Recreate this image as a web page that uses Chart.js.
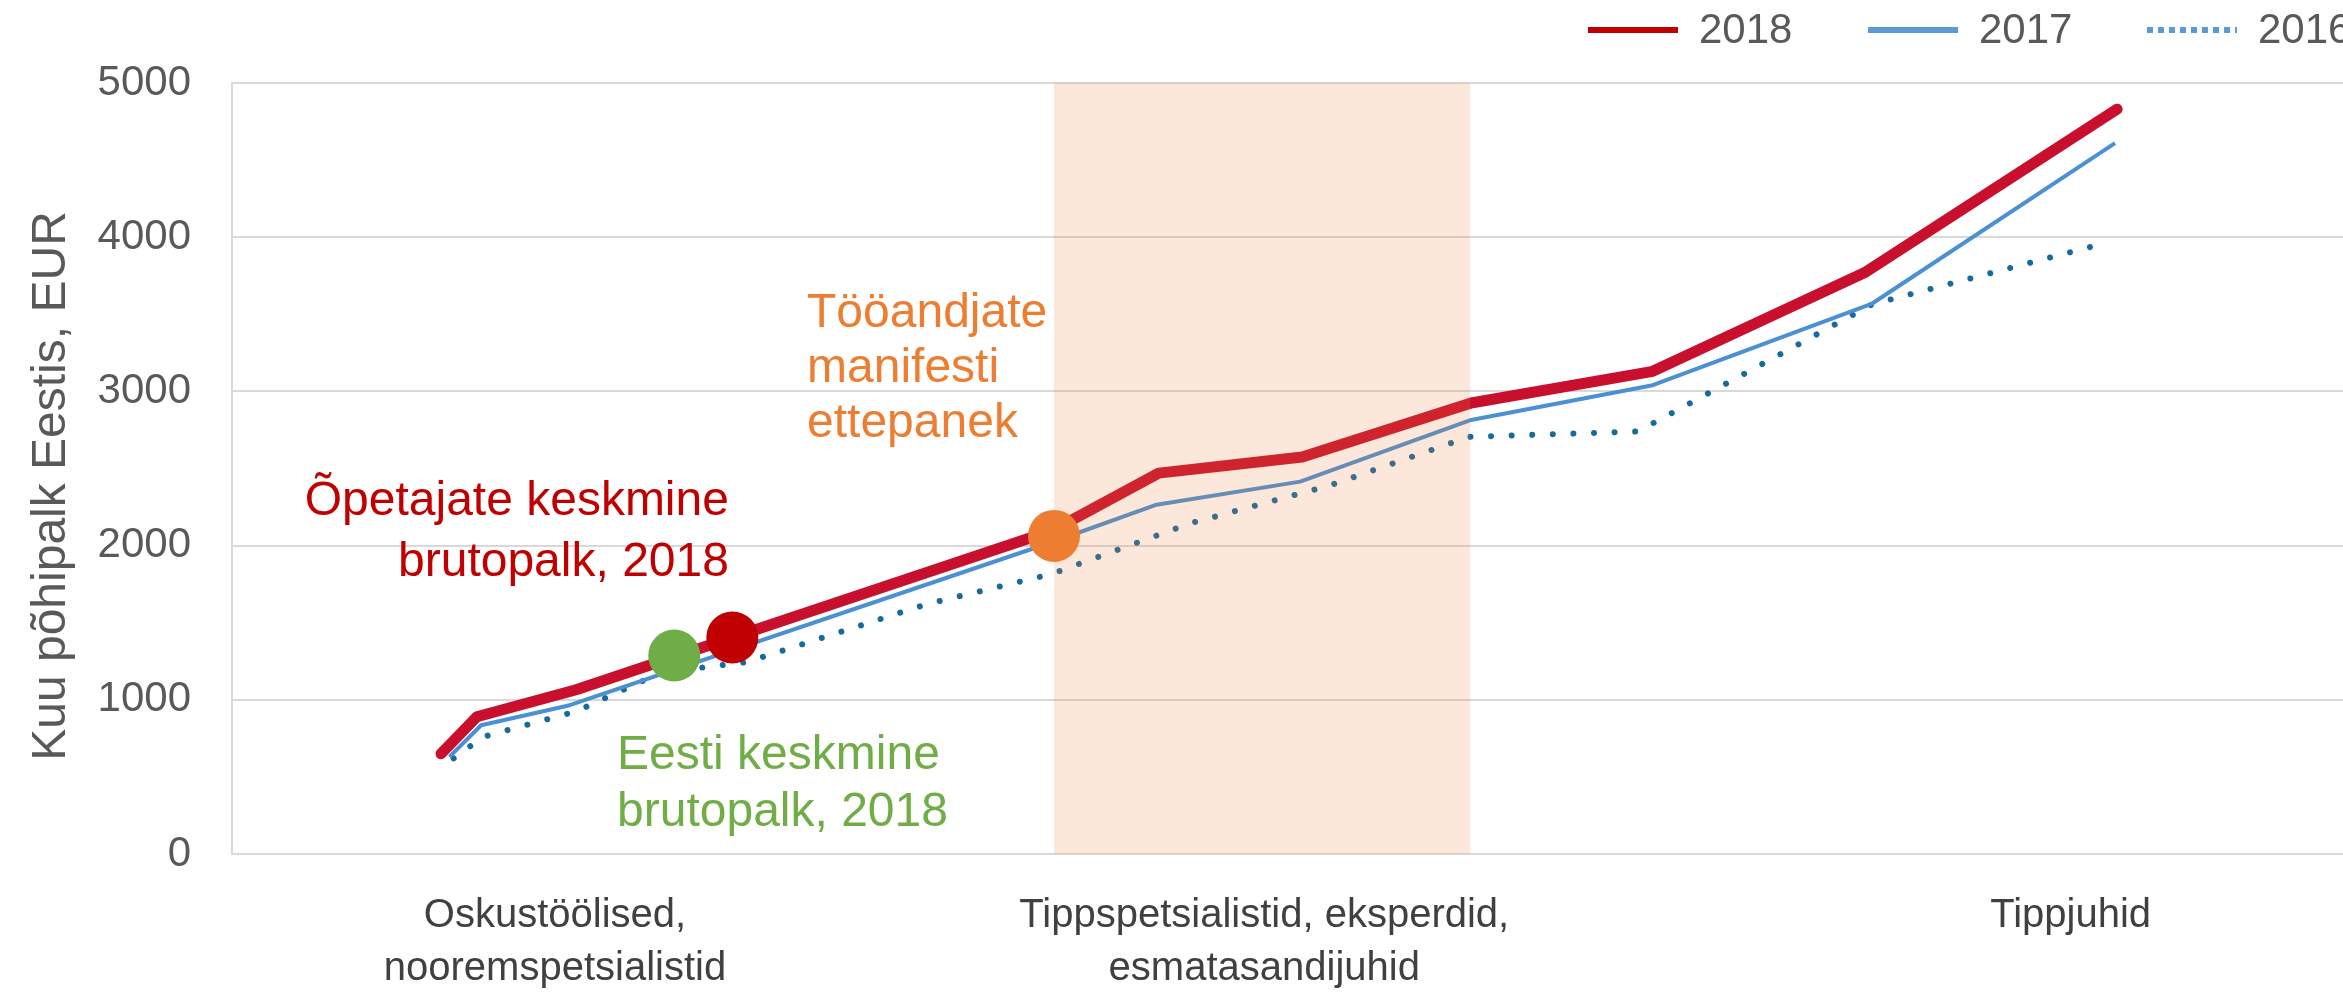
<!DOCTYPE html>
<html>
<head>
<meta charset="utf-8">
<script src="https://cdn.jsdelivr.net/npm/chart.js@4"></script>
<style>
  html, body { margin: 0; padding: 0; background: #fff; }
</style>
</head>
<body>
<canvas id="myChart" width="2343" height="993"></canvas>
<script>
// x = position along the occupation scale (0..100), y = EUR per month
const x2018 = [9.9, 11.6, 16.3, 38.9, 43.9, 50.7, 58.7, 67.3, 77.4, 89.3];
const y2018 = [650, 890, 1065, 2100, 2470, 2575, 2925, 3130, 3775, 4830];

const x2017 = [10.3, 11.8, 16.0, 38.9, 43.8, 50.6, 58.7, 67.3, 77.7, 89.2];
const y2017 = [630, 835, 965, 2025, 2265, 2415, 2815, 3040, 3570, 4610];

const x2016 = [10.5, 11.9, 16.3, 20.3, 24.4, 32.9, 38.8, 45.4, 52.0, 58.6, 66.6, 77.7, 88.4];
const y2016 = [620, 760, 925, 1175, 1245, 1620, 1815, 2145, 2390, 2705, 2740, 3565, 3950];

// marked points: Eesti keskmine, Õpetajate keskmine, Tööandjate manifest
const markerX = [20.95, 23.7, 38.94];
const markerY = [1287, 1404, 2063];
const markerColors = ['#70AD47', '#C00000', '#ED7D31'];

const bandRange = [38.94, 58.65];

const xTickValues = [15.3, 48.9, 87.1];
const xTickLabels = [
    ['Oskustöölised,', 'nooremspetsialistid'],
    ['Tippspetsialistid, eksperdid,', 'esmatasandijuhid'],
    ['Tippjuhid']
];
const yTicks = [0, 1000, 2000, 3000, 4000, 5000];
const yTitle = 'Kuu põhipalk Eestis, EUR';

const FONT = "'Liberation Sans', Arial, sans-serif";

const pts = (xs, ys) => xs.map((x, i) => ({ x: x, y: ys[i] }));

const notes = [
    { lines: ['Õpetajate keskmine', 'brutopalk, 2018'], color: '#C00000', x: 23.54, y: 2283, align: 'right', lh: 61 },
    { lines: ['Tööandjate', 'manifesti', 'ettepanek'], color: '#ED7D31', x: 27.24, y: 3502, align: 'left', lh: 55 },
    { lines: ['Eesti keskmine', 'brutopalk, 2018'], color: '#70AD47', x: 18.24, y: 637, align: 'left', lh: 57 }
];

const legendItems = [
    { text: '2018', color: '#C00000', width: 6, dash: [], x: 1588 },
    { text: '2017', color: '#5B9BD5', width: 6, dash: [], x: 1868 },
    { text: '2016', color: '#5B9BD5', width: 6, dash: [6, 5], x: 2147 }
];

const extras = {
    id: 'extras',
    afterDatasetDraw(chart, args) {
        // shaded band goes over the lines but under the markers
        if (args.index !== 0) return;
        const { ctx, chartArea } = chart;
        const xs = chart.scales.x;
        const x0 = xs.getPixelForValue(bandRange[0]);
        const x1 = xs.getPixelForValue(bandRange[1]);
        ctx.save();
        ctx.fillStyle = 'rgba(237, 125, 49, 0.18)';
        ctx.fillRect(x0, chartArea.top, x1 - x0, chartArea.bottom - chartArea.top);
        ctx.restore();
    },
    afterDraw(chart) {
        const { ctx } = chart;
        const xs = chart.scales.x, ys = chart.scales.y;
        ctx.save();
        ctx.font = '48px ' + FONT;
        ctx.textBaseline = 'middle';
        notes.forEach(n => {
            ctx.fillStyle = n.color;
            ctx.textAlign = n.align;
            const px = xs.getPixelForValue(n.x);
            const py = ys.getPixelForValue(n.y);
            n.lines.forEach((t, i) => ctx.fillText(t, px, py + i * n.lh));
        });

        // y axis title
        ctx.save();
        ctx.translate(52, 486);
        ctx.rotate(-Math.PI / 2);
        ctx.textAlign = 'center';
        ctx.fillStyle = '#595959';
        ctx.font = '48px ' + FONT;
        ctx.fillText(yTitle, 0, 0);
        ctx.restore();

        // legend
        ctx.font = '42px ' + FONT;
        ctx.textAlign = 'left';
        legendItems.forEach(it => {
            ctx.strokeStyle = it.color;
            ctx.lineWidth = it.width;
            ctx.setLineDash(it.dash);
            ctx.beginPath();
            ctx.moveTo(it.x, 30);
            ctx.lineTo(it.x + 90, 30);
            ctx.stroke();
            ctx.setLineDash([]);
            ctx.fillStyle = '#595959';
            ctx.fillText(it.text, it.x + 111, 31);
        });
        ctx.restore();
    }
};

const ctx = document.getElementById('myChart').getContext('2d');
new Chart(ctx, {
    type: 'line',
    data: {
        datasets: [{
            label: '2018',
            data: pts(x2018, y2018),
            borderColor: '#C8102E',
            borderWidth: 11,
            borderCapStyle: 'round',
            borderJoinStyle: 'round',
            pointRadius: 0,
            order: 0
        }, {
            label: '2017',
            data: pts(x2017, y2017),
            borderColor: '#4A90D2',
            borderWidth: 4,
            borderJoinStyle: 'round',
            pointRadius: 0,
            order: 0
        }, {
            label: '2016',
            data: pts(x2016, y2016),
            borderColor: '#176A9C',
            borderWidth: 6,
            borderDash: [0.001, 20.6],
            borderCapStyle: 'round',
            pointRadius: 0,
            order: 0
        }, {
            label: 'markers',
            type: 'scatter',
            data: pts(markerX, markerY),
            backgroundColor: markerColors,
            borderWidth: 0,
            pointRadius: 26,
            pointHoverRadius: 26,
            order: -1
        }]
    },
    options: {
        responsive: false,
        animation: false,
        devicePixelRatio: 1,
        layout: { autoPadding: false, padding: { top: 83, left: 0, right: 0, bottom: 0 } },
        plugins: {
            legend: { display: false },
            tooltip: { enabled: false }
        },
        scales: {
            x: {
                type: 'linear',
                min: 0,
                max: 100,
                grid: { display: false, drawTicks: false },
                border: { display: false },
                afterBuildTicks: (scale) => { scale.ticks = xTickValues.map(v => ({ value: v })); },
                afterFit: (scale) => {
                    scale.height = 139;
                    scale.paddingLeft = 0;
                    scale.paddingRight = 0;
                },
                ticks: {
                    autoSkip: false,
                    maxRotation: 0,
                    padding: 36,
                    color: '#404040',
                    font: { family: FONT, size: 40, lineHeight: 1.32 },
                    callback: (value, index) => xTickLabels[index]
                }
            },
            y: {
                min: yTicks[0],
                max: yTicks[yTicks.length - 1],
                afterBuildTicks: (scale) => { scale.ticks = yTicks.map(v => ({ value: v })); },
                afterFit: (scale) => { scale.width = 232; },
                grid: { color: '#D9D9D9', lineWidth: 2, drawTicks: false },
                border: { display: true, color: '#D9D9D9', width: 2 },
                ticks: {
                    padding: 41,
                    color: '#595959',
                    font: { family: FONT, size: 42 },
                    callback: (value) => String(value)
                }
            }
        }
    },
    plugins: [extras]
});
</script>
</body>
</html>
